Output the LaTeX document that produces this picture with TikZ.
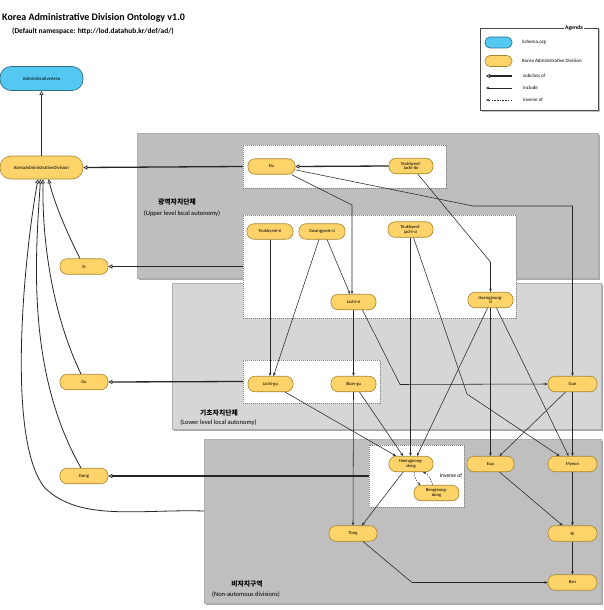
\documentclass[tikz,border=0pt]{standalone}
\usepackage{fontspec}
\setmainfont{Carlito}
\newfontfamily\krfont{Noto Sans CJK KR}
\usetikzlibrary{arrows.meta,calc}
\definecolor{yfill}{HTML}{FDD36A}
\definecolor{ybord}{HTML}{A8862C}
\definecolor{bfill}{HTML}{55C8F2}
\definecolor{bbord}{HTML}{2F6F8A}
\definecolor{upgray}{HTML}{BEBEBE}
\definecolor{midgray}{HTML}{D6D6D6}
\definecolor{lowgray}{HTML}{BFBFBF}
\definecolor{shadowgray}{HTML}{7A7A7A}
\tikzset{
  ynode/.style={draw=ybord, fill=yfill, rounded corners=7pt, minimum width=46pt, minimum height=15.5pt,
    inner sep=0pt, font=\fontsize{4.6}{4.8}\selectfont, align=center, line width=0.6pt},
  bnode/.style={draw=bbord, fill=bfill, rounded corners=11pt, minimum width=83pt, minimum height=24pt,
    inner sep=0pt, font=\fontsize{4.8}{5}\selectfont, line width=0.7pt},
  kadnode/.style={ynode, rounded corners=11pt, minimum width=83pt, minimum height=23pt, font=\fontsize{4.8}{5}\selectfont},
  region/.style={draw=shadowgray!60, line width=0.4pt, inner sep=0pt},
  grpbox/.style={fill=white, draw=gray, dash pattern=on 1pt off 1pt, line width=0.4pt, inner sep=0pt},
  incl/.style={-{Stealth[length=3.2pt,width=2.6pt]}, line width=0.55pt, draw=black!85},
  subc/.style={-{Triangle[open,length=4pt,width=4.2pt,line width=0.7pt]}, line width=1.3pt, draw=black!85},
  subcthin/.style={-{Triangle[open,length=4pt,width=4pt,line width=0.6pt]}, line width=0.8pt, draw=black!85},
  inv/.style={-{Stealth[length=3.2pt,width=2.6pt]}, line width=0.5pt, dash pattern=on 1.5pt off 1.2pt, draw=black!80},
  lbl/.style={font=\fontsize{6.5}{7}\selectfont, inner sep=0pt},
  krlbl/.style={font=\krfont\bfseries\fontsize{6.8}{7}\selectfont, inner sep=0pt},
}
\begin{document}
\begin{tikzpicture}[x=1pt,y=-1pt]
\useasboundingbox (0,0) rectangle (604,610);

% title
\node[anchor=west, inner sep=0pt, font=\bfseries\fontsize{10}{11}\selectfont] (title) at (2,18) {Korea Administrative Division Ontology v1.0};
\node[anchor=west, inner sep=0pt, font=\bfseries\fontsize{7.4}{8}\selectfont] (subtitle) at (12,31) {(Default namespace: http://lod.datahub.kr/def/ad/)};

% legend
\fill[shadowgray!45] (481.5,29.5) rectangle (599.5,111.5);
\node[draw=black!70, fill=white, line width=0.5pt, minimum width=118pt, minimum height=82pt, inner sep=0pt] (legend) at (539,69) {};
\node[fill=white, inner sep=1.2pt, font=\bfseries\fontsize{5.6}{6}\selectfont] (agenda) at (574,28) {Agenda};
\node[bnode, minimum width=27pt, minimum height=11pt, rounded corners=5pt] (lgblue) at (498.5,42.5) {};
\node[anchor=west, lbl, font=\fontsize{5}{5.5}\selectfont] (lgbluet) at (522,42.5) {Schema.org};
\node[ynode, minimum width=27pt, minimum height=11pt, rounded corners=5pt] (lgyel) at (498.5,61) {};
\node[anchor=west, lbl, font=\fontsize{5}{5.5}\selectfont] (lgyelt) at (522,61) {Korea Administrative Division};
\coordinate (ls1) at (512,76); \coordinate (le1) at (486,76);
\draw[subc, line width=1.1pt] (ls1) -- (le1);
\node[anchor=west, lbl, font=\fontsize{5}{5.5}\selectfont] (lgsub) at (523,76) {subclass of};
\coordinate (ls2) at (512,88); \coordinate (le2) at (486,88);
\draw[incl] (ls2) -- (le2);
\node[anchor=west, lbl, font=\fontsize{5}{5.5}\selectfont] (lginc) at (523,88) {include};
\coordinate (ls3) at (512,100); \coordinate (le3) at (486,100);
\draw[inv] (ls3) -- (le3);
\node[anchor=west, lbl, font=\fontsize{5}{5.5}\selectfont] (lginv) at (523,100) {inverse of};

% region boxes with shadows
\fill[shadowgray!65] (138.5,134.5) rectangle (599.5,279.5);
\node[region, fill=upgray, minimum width=461pt, minimum height=145pt] (upbox) at (367.5,205.5) {};
\fill[shadowgray!65] (173.5,284.5) rectangle (602.5,430.5);
\node[region, fill=midgray, minimum width=429pt, minimum height=146pt] (midbox) at (386.5,356) {};
\fill[shadowgray!65] (205.5,440.5) rectangle (602.5,604.5);
\node[region, fill=lowgray, minimum width=397pt, minimum height=164pt] (lowbox) at (402.5,521) {};

% dashed group boxes
\node[grpbox, minimum width=203pt, minimum height=43pt] (dobox) at (344.5,166.5) {};
\node[grpbox, minimum width=273pt, minimum height=103pt] (sibox) at (379.5,266.5) {};
\node[grpbox, minimum width=137pt, minimum height=43pt] (gubox) at (311.5,381.5) {};
\node[grpbox, minimum width=95pt, minimum height=62pt] (dongbox) at (416.5,476) {};

% region labels
\node[krlbl] (uplbl) at (177,202) {광역자치단체};
\node[lbl] (uplbl2) at (182,213.5) {(Upper level local autonomy)};
\node[krlbl] (midlbl) at (219,413) {기초자치단체};
\node[lbl] (midlbl2) at (218.5,422.5) {(Lower level local autonomy)};
\node[krlbl] (lowlbl) at (247,584) {비자치구역};
\node[lbl] (lowlbl2) at (246,595) {(Non-automous divisions)};

% left nodes
\node[bnode] (aa) at (41.5,78.5) {AdministrativeArea};
\node[kadnode] (kad) at (41.5,167.5) {KoreaAdministrativeDivision};
\node[ynode, minimum width=48pt] (si) at (84,266.5) {Si};
\node[ynode, minimum width=48pt] (gu) at (84,382) {Gu};
\node[ynode, minimum width=48pt] (dong) at (84,476) {Dong};

% right nodes
\node[ynode, minimum width=47pt] (do) at (271.5,166.5) {Do};
\node[ynode, minimum width=44pt] (tjdo) at (411,166) {Teukbyeol-\\Jachi-do};
\node[ynode] (tsi) at (270,231.5) {Teukbyeol-si};
\node[ynode] (gsi) at (322,231.5) {Gwangyeok-si};
\node[ynode, minimum width=45pt] (tjsi) at (410.5,229.5) {Teukbyeol-\\jachi-si};
\node[ynode, minimum width=45pt] (jachisi) at (353.5,302) {Jachi-si};
\node[ynode, minimum width=45pt] (hjsi) at (490.5,300) {Haengjeong-\\si};
\node[ynode, minimum width=45pt] (jachigu) at (270.5,384) {Jachi-gu};
\node[ynode, minimum width=45pt] (ilbangu) at (353.5,384) {Ilban-gu};
\node[ynode, minimum width=49pt] (gun) at (572.5,384) {Gun};
\node[ynode, minimum width=44pt] (hjdong) at (411,464) {Haengjeong-\\dong};
\node[ynode, minimum width=45pt] (bjdong) at (436.5,493) {Beopjeong-\\dong};
\node[ynode, minimum width=47pt] (eup) at (490.5,464) {Eup};
\node[ynode, minimum width=49pt] (myeon) at (572.5,464) {Myeon};
\node[ynode, minimum width=49pt] (ri) at (572.5,533.5) {Ri};
\node[ynode, minimum width=49pt] (ban) at (572.5,582.5) {Ban};
\node[ynode, minimum width=48pt] (tong) at (353,533.5) {Tong};
\node[lbl, font=\fontsize{5.6}{6}\selectfont] (invlbl) at (451,476) {inverse of};

% subclass connectors
\draw[subcthin] (kad) -- (aa);
\draw[subc] (dobox.west) -- (kad.east);
\draw[subc] (sibox.west) -- (si.east);
\draw[subc] (gubox.west) -- (gu.east);
\draw[subc] (dongbox.west) -- (dong.east);
\draw[subc] (tjdo.west) -- (do.east);

% curves to KAD
\draw[subcthin] ([xshift=-4pt]si.north) .. controls (68,235) and (55,205) .. ([xshift=7pt]kad.south);
\draw[subcthin] ([xshift=-3pt]gu.north) .. controls (55,320) and (42,250) .. ([xshift=1.5pt]kad.south);
\draw[subcthin] ([xshift=-3pt]dong.north) .. controls (25,370) and (36,250) .. ([xshift=-1pt]kad.south);
\coordinate (lowin) at (204,511);
\draw[subcthin] (lowin) .. controls (140,509) and (80,522) .. (45,488) .. controls (5,440) and (25,250) .. ([xshift=-3.5pt]kad.south);

% include connectors
\coordinate (b1) at (352,205);
\draw[incl] (do.-22) -- (b1) -- ([xshift=-1.5pt]jachisi.north);
\coordinate (b2) at (473,206); \coordinate (b3) at (572.5,206);
\draw[incl] (do.-8) -- (b2) -- (b3) -- (gun.north);
\coordinate (b4) at (490.5,262);
\draw[incl] (tjdo.-50) -- (b4) -- (hjsi.north);
\draw[incl] (tsi.south) -- ([xshift=-0.5pt]jachigu.north);
\draw[incl] (gsi.-58) -- ([xshift=-3.5pt]jachisi.north);
\draw[incl] ([xshift=-3pt]gsi.south) -- ([xshift=3pt]jachigu.north);
\draw[incl] (tjsi.south) -- ([xshift=-0.5pt]hjdong.north);
\coordinate (b5) at (467,394);
\draw[incl] ([xshift=3pt]tjsi.south) -- (b5) -- ([xshift=-13pt]myeon.north);
\draw[incl] (jachisi.south) -- (ilbangu.north);
\coordinate (b6) at (400,384.5);
\draw[incl] ([xshift=9pt]jachisi.south) -- (b6) -- (gun.west);
\draw[incl] ([xshift=-3pt]hjsi.south) -- ([xshift=6pt]hjdong.north);
\draw[incl] (hjsi.south) -- (eup.north);
\draw[incl] ([xshift=6pt]hjsi.south) -- ([xshift=-4pt]myeon.north);
\draw[incl] ([xshift=-7pt]gun.south) -- ([xshift=9pt]eup.north);
\draw[incl] (gun.south) -- (myeon.north);
\draw[incl] (jachigu.-29) -- ([xshift=-15pt]hjdong.north);
\draw[incl] ([xshift=6pt]ilbangu.south) -- ([xshift=-8pt]hjdong.north);
\draw[incl] (ilbangu.south) -- (tong.north);
\draw[incl] ([xshift=-8pt]hjdong.south) -- ([xshift=9pt]tong.north);
\draw[inv] ([xshift=3pt]hjdong.south) .. controls (415,480) and (418,483) .. ([xshift=-16pt]bjdong.north);
\draw[inv] ([xshift=-4pt]bjdong.north) .. controls (432,480) and (428,474) .. ([xshift=12pt]hjdong.south);
\draw[incl] ([xshift=9pt]eup.south) -- ([xshift=-10pt]ri.north);
\draw[incl] (myeon.south) -- (ri.north);
\draw[incl] (ri.south) -- (ban.north);
\coordinate (b7) at (412,582.5);
\draw[incl] ([xshift=10pt]tong.south) -- (b7) -- (ban.west);
\end{tikzpicture}
\end{document}
